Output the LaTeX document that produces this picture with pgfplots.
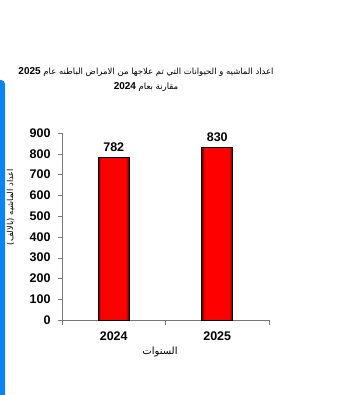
\documentclass[border=0pt]{standalone}
\usepackage{fontspec}
\setmainfont{Liberation Sans}
\newfontfamily\arabicfont[Script=Arabic]{DejaVu Sans}
\usepackage{pgfplots}
\pgfplotsset{compat=1.18}
\TeXXeTstate=1
\definecolor{barred}{RGB}{255,0,0}
\definecolor{bluebar}{RGB}{10,132,240}
\definecolor{axisgray}{RGB}{120,120,120}
\begin{document}
\begin{tikzpicture}
\useasboundingbox (0pt,0pt) rectangle (338pt,395pt);
\fill[bluebar, rounded corners=4pt] (-10pt,-10pt) rectangle (5pt,315pt);
\begin{axis}[
  at={(62pt,75pt)}, anchor=south west,
  scale only axis, width=207pt, height=187pt,
  xmin=-0.5, xmax=1.5, ymin=0, ymax=900,
  ybar, bar shift=0pt,
  ytick={0,100,...,900},
  xtick={0,1}, xticklabels={2024,2025},
  axis lines=left,
  axis line style={-, draw=axisgray},
  tick align=outside,
  major tick length=4pt,
  ytick style={draw=axisgray},
  xtick style={draw=none},
  extra x ticks={-0.5,0.5,1.5},
  extra x tick labels={},
  extra x tick style={xtick style={draw=axisgray}, major tick length=5pt},
  tick label style={font=\bfseries\fontsize{12.5}{14}\selectfont},
  yticklabel style={xshift=-4pt},
  xticklabel style={yshift=-4pt},
  /pgf/number format/assume math mode=true,
  clip=false,
]
\addplot[draw=none, fill=red!40!black, bar width=31pt] coordinates {(0,782) (1,830)};
\addplot[draw=none, fill=red!58!black, bar width=29.5pt] coordinates {(0,782) (1,830)};
\addplot[draw=none, fill=red!74!black, bar width=28pt] coordinates {(0,782) (1,830)};
\addplot[draw=none, fill=red!88!black, bar width=26.5pt] coordinates {(0,782) (1,830)};
\addplot[draw=none, fill=barred, bar width=25pt] coordinates {(0,782) (1,830)};
\addplot[draw=black, line width=0.8pt, fill=none, bar width=31pt,
  nodes near coords,
  nodes near coords style={font=\bfseries\fontsize{12.5}{14}\selectfont, text=black, yshift=2pt}]
  coordinates {(0,782) (1,830)};
\end{axis}
\node[rotate=90] at (10.5pt,188pt) {\arabicfont\fontsize{8.3}{9}\selectfont\beginR اعداد الماشيه (بالالف)\endR};
\node at (160pt,43pt) {\arabicfont\fontsize{10}{11}\selectfont\beginR السنوات\endR};
\node at (146pt,323pt) {\arabicfont\fontsize{8.5}{10}\selectfont\beginR اعداد الماشيه و الحيوانات التي تم علاجها من الامراض الباطنه عام \beginL{\normalfont\bfseries\fontsize{10}{11}\selectfont 2025}\endL\endR};
\node at (146pt,308pt) {\arabicfont\fontsize{8.5}{10}\selectfont\beginR مقارنة بعام \beginL{\normalfont\bfseries\fontsize{10}{11}\selectfont 2024}\endL\endR};
\end{tikzpicture}
\end{document}
